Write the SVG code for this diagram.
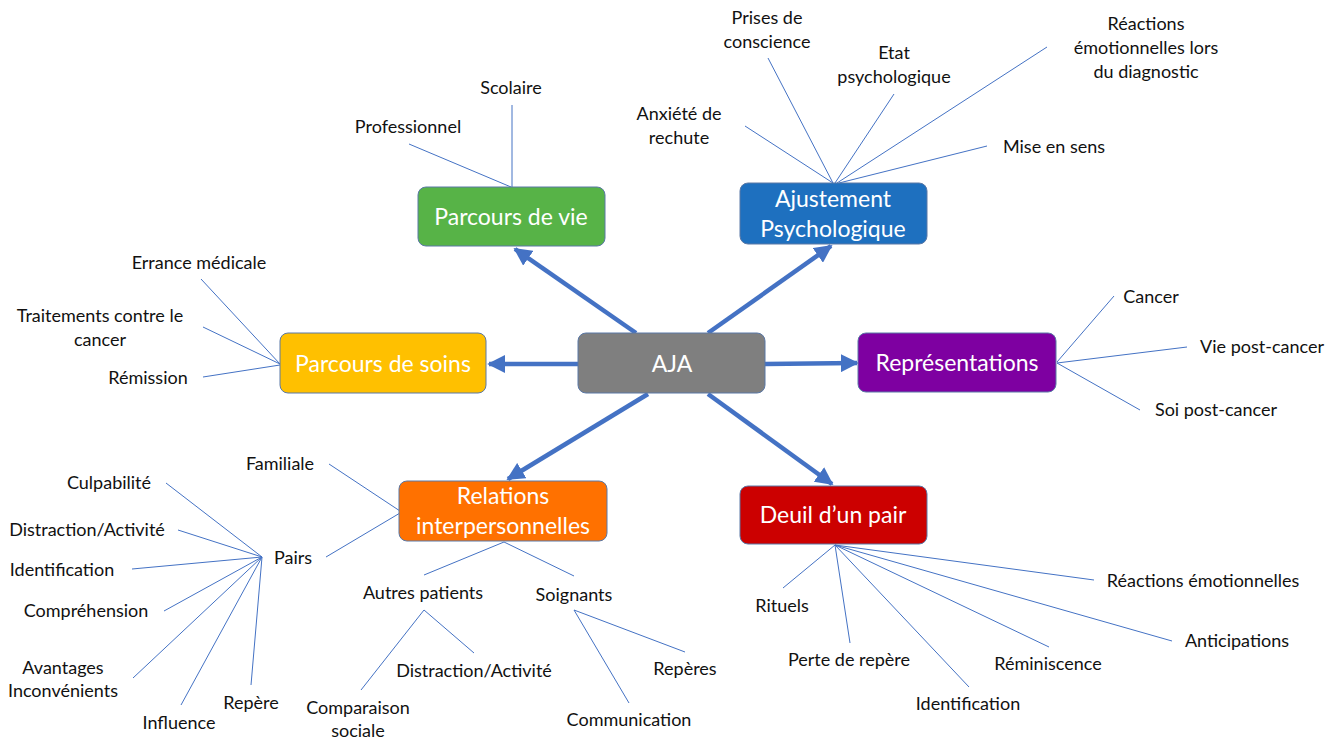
<svg xmlns="http://www.w3.org/2000/svg" width="1338" height="739" viewBox="0 0 1338 739">
<style>
.bg{fill:#ffffff}
.box{stroke:#5a78a6;stroke-width:1}
.nt{font-family:Lato,"Open Sans","Liberation Sans",sans-serif;font-size:23px;fill:#ffffff;text-anchor:middle}
.lb{font-family:Lato,"Open Sans","Liberation Sans",sans-serif;font-size:18px;fill:#111111;text-anchor:middle}
.thin{stroke:#4472C4;stroke-width:1;fill:none}
.thick{stroke:#4472C4;stroke-width:4.5;fill:none;marker-end:url(#ah)}
</style>
<defs>
<marker id="ah" viewBox="0 0 10 10" refX="9" refY="5" markerWidth="4" markerHeight="4" orient="auto" markerUnits="strokeWidth">
<path d="M0,0 L10,5 L0,10 z" fill="#4472C4"/>
</marker>
</defs>
<rect class="bg" x="0" y="0" width="1338" height="739"/>
<g id="connectors">
<line class="thick" x1="636" y1="333" x2="515" y2="249"/>
<line class="thick" x1="708" y1="333" x2="831" y2="246"/>
<line class="thick" x1="578" y1="364" x2="489" y2="364"/>
<line class="thick" x1="765" y1="364" x2="857" y2="363"/>
<line class="thick" x1="648" y1="394" x2="508" y2="479"/>
<line class="thick" x1="708" y1="394" x2="832" y2="484"/>
<line class="thin" x1="512" y1="105" x2="512" y2="187"/>
<line class="thin" x1="409" y1="144" x2="511" y2="187"/>
<line class="thin" x1="745" y1="126" x2="833" y2="183"/>
<line class="thin" x1="768" y1="58" x2="833" y2="183"/>
<line class="thin" x1="894" y1="94" x2="835" y2="183"/>
<line class="thin" x1="1047" y1="47" x2="837" y2="183"/>
<line class="thin" x1="987" y1="146" x2="839" y2="183"/>
<line class="thin" x1="201" y1="279" x2="280" y2="364"/>
<line class="thin" x1="203" y1="327" x2="280" y2="364"/>
<line class="thin" x1="203" y1="377" x2="280" y2="365"/>
<line class="thin" x1="1114" y1="296" x2="1057" y2="362"/>
<line class="thin" x1="1187" y1="347" x2="1057" y2="363"/>
<line class="thin" x1="1140" y1="410" x2="1057" y2="363"/>
<line class="thin" x1="329" y1="464" x2="400" y2="511"/>
<line class="thin" x1="326" y1="557" x2="400" y2="513"/>
<line class="thin" x1="166" y1="483" x2="262" y2="557"/>
<line class="thin" x1="178" y1="530" x2="262" y2="557"/>
<line class="thin" x1="132" y1="569" x2="262" y2="557"/>
<line class="thin" x1="164" y1="611" x2="262" y2="557"/>
<line class="thin" x1="133" y1="678" x2="262" y2="557"/>
<line class="thin" x1="181" y1="705" x2="262" y2="557"/>
<line class="thin" x1="251" y1="685" x2="262" y2="557"/>
<line class="thin" x1="424" y1="575" x2="504" y2="542"/>
<line class="thin" x1="574" y1="576" x2="504" y2="542"/>
<line class="thin" x1="361" y1="690" x2="424" y2="610"/>
<line class="thin" x1="474" y1="653" x2="424" y2="610"/>
<line class="thin" x1="629" y1="703" x2="574" y2="610"/>
<line class="thin" x1="685" y1="652" x2="574" y2="610"/>
<line class="thin" x1="783" y1="588" x2="835" y2="545"/>
<line class="thin" x1="850" y1="643" x2="835" y2="545"/>
<line class="thin" x1="969" y1="687" x2="835" y2="545"/>
<line class="thin" x1="1049" y1="647" x2="835" y2="545"/>
<line class="thin" x1="1172" y1="641" x2="835" y2="545"/>
<line class="thin" x1="1094" y1="580" x2="835" y2="545"/>
</g>
<g id="aja">
<rect class="box" x="578" y="333" width="187" height="60" rx="8" fill="#7F7F7F"/>
<text class="nt" x="672" y="372">AJA</text>
</g>
<g id="parcours-vie">
<rect class="box" x="418" y="187" width="187" height="59" rx="8" fill="#57B347"/>
<text class="nt" x="511" y="225">Parcours de vie</text>
</g>
<g id="ajustement">
<rect class="box" x="740" y="183" width="187" height="61" rx="8" fill="#1E70BF"/>
<text class="nt" x="833" y="207">Ajustement</text>
<text class="nt" x="833" y="237">Psychologique</text>
</g>
<g id="parcours-soins">
<rect class="box" x="280" y="333" width="206" height="60" rx="8" fill="#FFC000"/>
<text class="nt" x="383" y="372">Parcours de soins</text>
</g>
<g id="representations">
<rect class="box" x="858" y="333" width="198" height="59" rx="8" fill="#7E00A1"/>
<text class="nt" x="957" y="371">Représentations</text>
</g>
<g id="relations">
<rect class="box" x="399" y="481" width="208" height="60" rx="8" fill="#FF7100"/>
<text class="nt" x="503" y="504">Relations</text>
<text class="nt" x="503" y="534">interpersonnelles</text>
</g>
<g id="deuil">
<rect class="box" x="740" y="486" width="187" height="58" rx="8" fill="#CC0000"/>
<text class="nt" x="833" y="523">Deuil d’un pair</text>
</g>
<g id="labels">
<text class="lb" x="511" y="94">Scolaire</text>
<text class="lb" x="408" y="133">Professionnel</text>
<text class="lb" x="767" y="24">Prises de</text>
<text class="lb" x="767" y="48">conscience</text>
<text class="lb" x="894" y="59">Etat</text>
<text class="lb" x="894" y="83">psychologique</text>
<text class="lb" x="1146" y="30">Réactions</text>
<text class="lb" x="1146" y="54">émotionnelles lors</text>
<text class="lb" x="1146" y="78">du diagnostic</text>
<text class="lb" x="679" y="120">Anxiété de</text>
<text class="lb" x="679" y="144">rechute</text>
<text class="lb" x="1054" y="153">Mise en sens</text>
<text class="lb" x="199" y="269">Errance médicale</text>
<text class="lb" x="100" y="322">Traitements contre le</text>
<text class="lb" x="100" y="346">cancer</text>
<text class="lb" x="148" y="384">Rémission</text>
<text class="lb" x="1151" y="303">Cancer</text>
<text class="lb" x="1262" y="353">Vie post-cancer</text>
<text class="lb" x="1216" y="416">Soi post-cancer</text>
<text class="lb" x="280" y="470">Familiale</text>
<text class="lb" x="109" y="489">Culpabilité</text>
<text class="lb" x="87" y="536">Distraction/Activité</text>
<text class="lb" x="62" y="576">Identification</text>
<text class="lb" x="86" y="617">Compréhension</text>
<text class="lb" x="63" y="674">Avantages</text>
<text class="lb" x="63" y="697">Inconvénients</text>
<text class="lb" x="179" y="729">Influence</text>
<text class="lb" x="251" y="709">Repère</text>
<text class="lb" x="293" y="564">Pairs</text>
<text class="lb" x="423" y="599">Autres patients</text>
<text class="lb" x="574" y="601">Soignants</text>
<text class="lb" x="358" y="714">Comparaison</text>
<text class="lb" x="358" y="737">sociale</text>
<text class="lb" x="474" y="677">Distraction/Activité</text>
<text class="lb" x="629" y="726">Communication</text>
<text class="lb" x="685" y="675">Repères</text>
<text class="lb" x="782" y="612">Rituels</text>
<text class="lb" x="849" y="666">Perte de repère</text>
<text class="lb" x="968" y="710">Identification</text>
<text class="lb" x="1048" y="670">Réminiscence</text>
<text class="lb" x="1237" y="647">Anticipations</text>
<text class="lb" x="1203" y="587">Réactions émotionnelles</text>
</g>
</svg>
